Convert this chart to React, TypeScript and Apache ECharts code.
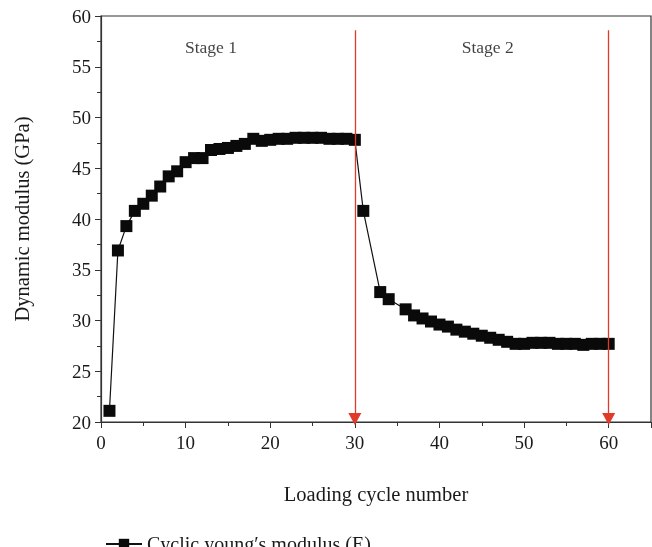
import React, { useEffect, useRef } from "react";
import * as echarts from "echarts";

const cycles = [1, 2, 3, 4, 5, 6, 7, 8, 9, 10, 11, 12, 13, 14, 15, 16, 17, 18, 19, 20, 21, 22, 23, 24, 25, 26, 27, 28, 29, 30,
  31, 33, 34, 36, 37, 38, 39, 40, 41, 42, 43, 44, 45, 46, 47, 48, 49, 50, 51, 52, 53, 54, 55, 56, 57, 58, 59, 60];
const modulus = [21.1, 36.9, 39.3, 40.8, 41.5, 42.3, 43.2, 44.2, 44.7, 45.6, 46.0, 46.0, 46.8, 46.9, 47.0, 47.2, 47.4, 47.9, 47.7, 47.8,
  47.9, 47.9, 48.0, 48.0, 48.0, 48.0, 47.9, 47.9, 47.9, 47.8,
  40.8, 32.8, 32.1, 31.1, 30.5, 30.2, 29.9, 29.6, 29.4, 29.1, 28.9, 28.7, 28.5, 28.3, 28.1, 27.9, 27.7, 27.7, 27.8, 27.8, 27.8, 27.7, 27.7, 27.7, 27.6, 27.7, 27.7, 27.7];
const stageLabels = ["Stage 1", "Stage 2"];
const stageX = [13, 45.7];
const stageY = 56.9;
const arrowX = [30, 60];
const arrowTop = 58.6;
const arrowBottom = 20.3;

const FONT = "'Liberation Serif', 'DejaVu Serif', serif";
const SERIES_NAME = "Cyclic young\u2032s modulus (E)";

export default function App() {
  const ref = useRef<HTMLDivElement>(null);
  useEffect(() => {
    if (!ref.current) return;
    const chart = echarts.init(ref.current, undefined, { renderer: "svg" });
    chart.setOption({
      animation: false,
      textStyle: { fontFamily: FONT },
      grid: { left: 101, right: 1, top: 16, bottom: 125, show: true, borderColor: "#333", borderWidth: 1.2 },
      legend: {
        left: 100,
        top: 529,
        itemWidth: 36,
        itemHeight: 13,
        itemGap: 10,
        textStyle: { fontFamily: FONT, fontSize: 20, color: "#1a1a1a" },
        data: [SERIES_NAME],
      },
      xAxis: {
        type: "value",
        min: 0,
        max: 65,
        interval: 10,
        name: "Loading cycle number",
        nameLocation: "middle",
        nameGap: 61,
        nameTextStyle: { fontFamily: FONT, fontSize: 20.5, color: "#1a1a1a" },
        axisLine: { lineStyle: { color: "#333", width: 1.2 } },
        axisTick: { show: true, inside: false, length: 6, lineStyle: { color: "#333" } },
        minorTick: { show: true, splitNumber: 2, length: 4, lineStyle: { color: "#333" } },
        splitLine: { show: false },
        axisLabel: { fontFamily: FONT, fontSize: 19, color: "#1a1a1a", margin: 11, showMaxLabel: false },
      },
      yAxis: {
        type: "value",
        min: 20,
        max: 60,
        interval: 5,
        name: "Dynamic modulus (GPa)",
        nameLocation: "middle",
        nameGap: 69,
        nameTextStyle: { fontFamily: FONT, fontSize: 20.5, color: "#1a1a1a" },
        axisLine: { show: true, lineStyle: { color: "#333", width: 1.2 } },
        axisTick: { show: true, inside: false, length: 6, lineStyle: { color: "#333" } },
        minorTick: { show: true, splitNumber: 2, length: 4, lineStyle: { color: "#333" } },
        splitLine: { show: false },
        axisLabel: { fontFamily: FONT, fontSize: 19, color: "#1a1a1a", margin: 10 },
      },
      series: [
        {
          name: SERIES_NAME,
          type: "line",
          data: cycles.map((c, i) => [c, modulus[i]]),
          symbol: "rect",
          symbolSize: 12,
          itemStyle: { color: "#0a0a0a" },
          lineStyle: { color: "#111", width: 1.2 },
          z: 3,
        },
        {
          name: "arrows",
          type: "line",
          data: [],
          markLine: {
            silent: true,
            symbol: ["none", "triangle"],
            symbolSize: [13, 12],
            label: { show: false },
            lineStyle: { color: "#e03a2a", width: 1.3, type: "solid" },
            data: arrowX.map((x) => [
              { coord: [x, arrowTop] },
              { coord: [x, arrowBottom] },
            ]),
          },
          z: 2,
        },
        {
          name: "stages",
          type: "scatter",
          symbolSize: 0,
          data: stageLabels.map((s, i) => ({ value: [stageX[i], stageY], name: s })),
          label: {
            show: true,
            position: "inside",
            formatter: (p: any) => p.name,
            fontFamily: FONT,
            fontSize: 17.5,
            color: "#111",
          },
        },
      ],
    });
    return () => chart.dispose();
  }, []);
  return <div ref={ref} style={{ position: "fixed", left: 0, top: 0, width: 652, height: 547 }} />;
}
